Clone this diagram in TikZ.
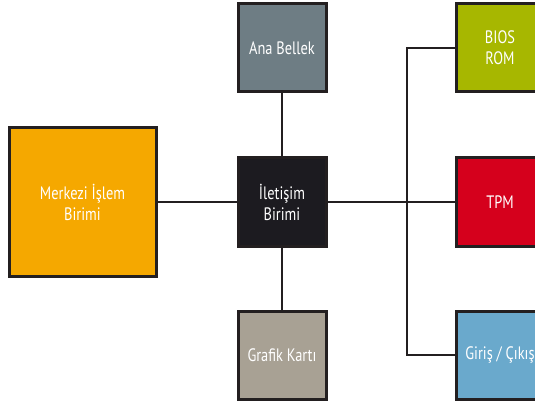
\documentclass[tikz,border=0pt]{standalone}
\usepackage{fontspec}
\setmainfont[FakeStretch=0.8]{PT Sans}
\definecolor{edge}{HTML}{231F20}
\definecolor{cpuC}{HTML}{F5A800}
\definecolor{memC}{HTML}{6E7D84}
\definecolor{commC}{HTML}{1C1B20}
\definecolor{gpuC}{HTML}{A8A194}
\definecolor{biosC}{HTML}{A7B700}
\definecolor{tpmC}{HTML}{D5001C}
\definecolor{ioC}{HTML}{6AA9CC}
\tikzset{
  unit/.style={draw=edge, line width=3pt, minimum width=88pt, minimum height=88pt,
    inner sep=0pt, text=white, align=center, font=\fontsize{18}{21}\selectfont},
  link/.style={draw=edge, line width=2pt}
}
\begin{document}
\begin{tikzpicture}[x=1pt,y=-1pt]
\useasboundingbox (0,0) rectangle (535,406);
\clip (0,0) rectangle (535,406);
\fill[white] (0,0) rectangle (535,406);
\node[unit, fill=cpuC, minimum width=147pt, minimum height=148pt] (cpu) at (82.5,202) {Merkezi İşlem\\Birimi};
\node[unit, fill=memC] (mem) at (282,48) {Ana Bellek};
\node[unit, fill=commC] (comm) at (282,202) {İletişim\\Birimi};
\node[unit, fill=gpuC] (gpu) at (282,355) {Grafik Kartı};
\node[unit, fill=biosC] (bios) at (500,48) {BIOS\\ROM};
\node[unit, fill=tpmC] (tpm) at (500,202) {TPM};
\node[unit, fill=ioC] (io) at (500,355) {Giriş / Çıkış};
\coordinate (tl) at (407,48);
\coordinate (bl) at (407,355);
\draw[link] (cpu.east) -- (comm.west);
\draw[link] (mem.south) -- (comm.north);
\draw[link] (comm.south) -- (gpu.north);
\draw[link] (comm.east) -- (tpm.west);
\draw[link] (bios.west) -- (tl) -- (bl) -- (io.west);
\end{tikzpicture}
\end{document}
